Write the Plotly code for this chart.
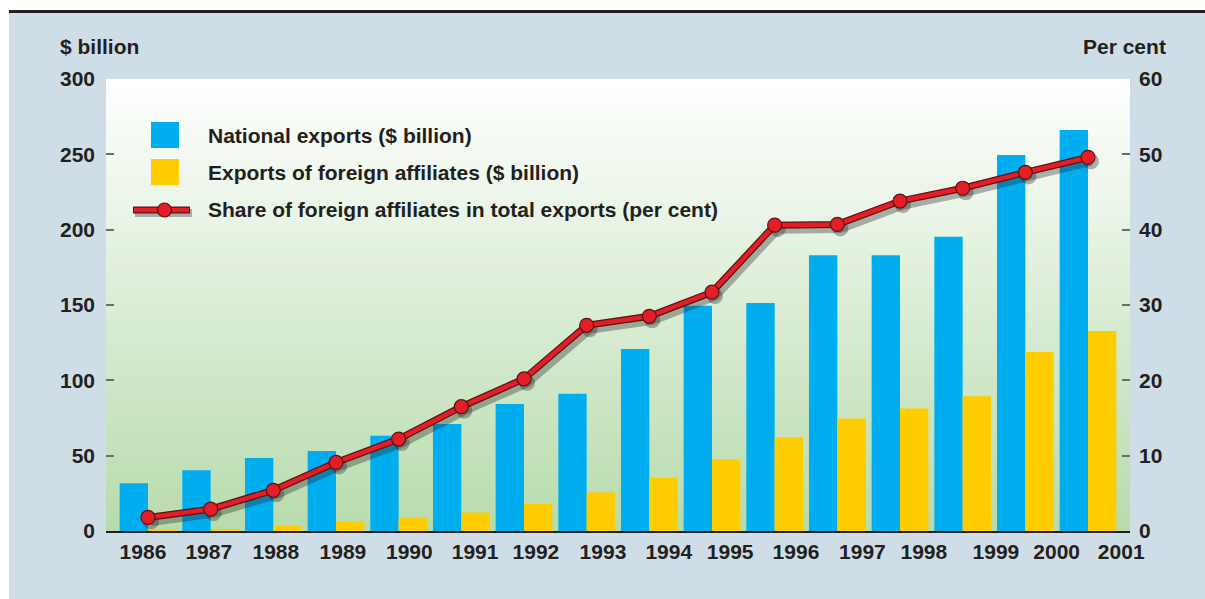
import plotly.graph_objects as go

# ---- data -------------------------------------------------------------
years = ["1986", "1987", "1988", "1989", "1990", "1991", "1992", "1993",
         "1994", "1995", "1996", "1997", "1998", "1999", "2000", "2001"]
national_exports = [31.7, 40.3, 48.4, 53.1, 63.2, 71.0, 84.3, 91.1,
                    120.8, 149.5, 151.3, 183.1, 183.1, 195.3, 249.5, 266.1]
affiliate_exports = [0.3, 1.3, 3.5, 6.4, 8.6, 12.2, 17.9, 25.6,
                     35.1, 47.7, 62.3, 74.6, 81.3, 89.4, 118.8, 132.7]
affiliate_share = [1.8, 2.9, 5.4, 9.1, 12.2, 16.5, 20.2, 27.3,
                   28.5, 31.7, 40.6, 40.7, 43.8, 45.5, 47.6, 49.6]
# positions of the year labels along the category axis (group units)
label_pos = [-0.08, 0.97, 2.04, 3.11, 4.17, 5.22, 6.19, 7.26,
             8.31, 9.29, 10.34, 11.40, 12.38, 13.53, 14.50, 15.53]
left_ticks = [0, 50, 100, 150, 200, 250, 300]
right_ticks = [0, 10, 20, 30, 40, 50, 60]

# ---- styling ----------------------------------------------------------
W, H = 1205, 599
L, R, T, B = 106, 75, 79, 68
PW, PH = W - L - R, H - T - B
PANEL = "#cfdee6"
BLUE = "#00aeef"
YELLOW = "#ffcc00"
RED = "#e41e26"
EDGE = "#5a1214"
DARK = "#231f20"
FONT = "Liberation Sans, Arial, sans-serif"
XR = [-0.67, 15.67]
YR2 = [0, 60]

def px_x(p):
    return (p - L) / PW

def px_y(p):
    return (H - B - p) / PH

idx = list(range(len(years)))

fig = go.Figure()
fig.add_trace(go.Bar(x=idx, y=national_exports, name="National exports ($ billion)",
                     marker=dict(color=BLUE, line=dict(width=0)), showlegend=False))
fig.add_trace(go.Bar(x=idx, y=affiliate_exports, name="Exports of foreign affiliates ($ billion)",
                     marker=dict(color=YELLOW, line=dict(width=0)), showlegend=False))

# soft drop shadow of the share line, drawn on slightly shifted hidden axes
sx = 3 / (PW / (XR[1] - XR[0]))
sy = 4 / (PH / (YR2[1] - YR2[0]))
fig.add_trace(go.Scatter(x=idx, y=affiliate_share, mode="lines+markers",
                         xaxis="x2", yaxis="y3", hoverinfo="skip", showlegend=False,
                         line=dict(color="rgba(40,40,40,0.35)", width=9),
                         marker=dict(size=16, color="rgba(40,40,40,0.35)")))
# share line on its own overlay so it sits above the shadow:
# dark outline underneath, red line and markers on top
fig.add_trace(go.Scatter(x=idx, y=affiliate_share, mode="lines", xaxis="x3", yaxis="y2",
                         hoverinfo="skip", showlegend=False,
                         line=dict(color=EDGE, width=7)))
fig.add_trace(go.Scatter(x=idx, y=affiliate_share, mode="lines+markers", xaxis="x3", yaxis="y2",
                         name="Share of foreign affiliates in total exports (per cent)",
                         showlegend=False,
                         line=dict(color=RED, width=4.5),
                         marker=dict(size=14, color=RED, line=dict(color=EDGE, width=1.2))))

shapes = []
# outer panel and top rule
shapes.append(dict(type="rect", xref="paper", yref="paper", layer="below",
                   x0=px_x(0), x1=px_x(9), y0=px_y(H), y1=px_y(0),
                   fillcolor="white", line=dict(width=0)))
shapes.append(dict(type="rect", xref="paper", yref="paper", layer="below",
                   x0=px_x(0), x1=px_x(W), y0=px_y(10), y1=px_y(0),
                   fillcolor="white", line=dict(width=0)))
shapes.append(dict(type="rect", xref="paper", yref="paper", layer="below",
                   x0=px_x(9), x1=px_x(W), y0=px_y(13), y1=px_y(10),
                   fillcolor=DARK, line=dict(width=0)))
# vertical gradient of the plotting area: white at top, pale green at bottom
n_bands = 90
top_rgb = (255, 255, 255)
bot_rgb = (183, 219, 172)
for i in range(n_bands):
    f = (i + 0.5) / n_bands
    c = tuple(round(top_rgb[k] + (bot_rgb[k] - top_rgb[k]) * f) for k in range(3))
    shapes.append(dict(type="rect", xref="x domain", yref="y domain", layer="below",
                       x0=0, x1=1, y0=1 - (i + 1) / n_bands - 0.002, y1=1 - i / n_bands,
                       fillcolor="rgb(%d,%d,%d)" % c, line=dict(width=0)))

# legend drawn by hand
shapes.append(dict(type="rect", xref="paper", yref="paper",
                   x0=px_x(151), x1=px_x(179), y0=px_y(148), y1=px_y(122),
                   fillcolor=BLUE, line=dict(width=0)))
shapes.append(dict(type="rect", xref="paper", yref="paper",
                   x0=px_x(151), x1=px_x(179), y0=px_y(185), y1=px_y(159),
                   fillcolor=YELLOW, line=dict(width=0)))
shapes.append(dict(type="line", xref="paper", yref="paper",
                   x0=px_x(135), x1=px_x(192), y0=px_y(213), y1=px_y(213),
                   line=dict(color="rgba(40,40,40,0.35)", width=8)))
shapes.append(dict(type="line", xref="paper", yref="paper",
                   x0=px_x(133), x1=px_x(190), y0=px_y(210), y1=px_y(210),
                   line=dict(color=EDGE, width=7)))
shapes.append(dict(type="line", xref="paper", yref="paper",
                   x0=px_x(134), x1=px_x(189), y0=px_y(210), y1=px_y(210),
                   line=dict(color=RED, width=4.5)))
shapes.append(dict(type="circle", xref="paper", yref="paper",
                   x0=px_x(157.5), x1=px_x(171.5), y0=px_y(217), y1=px_y(203),
                   fillcolor=RED, line=dict(color=EDGE, width=1.2)))

font = dict(family=FONT, size=21, color=DARK, weight="bold")
annotations = []
legend_rows = [("National exports ($ billion)", 135),
               ("Exports of foreign affiliates ($ billion)", 172),
               ("Share of foreign affiliates in total exports (per cent)", 210)]
for txt, yy in legend_rows:
    annotations.append(dict(text=txt, xref="paper", yref="paper", x=px_x(206), y=px_y(yy),
                            xanchor="left", yanchor="middle", showarrow=False, font=font))
annotations.append(dict(text="$ billion", xref="paper", yref="paper", x=px_x(58), y=px_y(47),
                        xanchor="left", yanchor="middle", showarrow=False, font=font))
annotations.append(dict(text="Per cent", xref="paper", yref="paper", x=px_x(1168), y=px_y(47),
                        xanchor="right", yanchor="middle", showarrow=False, font=font))

fig.update_layout(
    width=W, height=H,
    margin=dict(l=L, r=R, t=T, b=B, pad=0),
    paper_bgcolor=PANEL, plot_bgcolor=PANEL,
    barmode="group", bargap=0.095, bargroupgap=0,
    font=font,
    showlegend=False,
    shapes=shapes, annotations=annotations,
    xaxis=dict(range=XR, tickmode="array", tickvals=label_pos, ticktext=years,
               showgrid=False, zeroline=False, showline=True, linecolor=DARK, linewidth=2,
               ticks="", ticklabelstandoff=1, tickfont=font, fixedrange=True),
    yaxis=dict(range=[0, 300], tickmode="array", tickvals=left_ticks,
               showgrid=False, zeroline=False, showline=False,
               ticks="inside", ticklen=8, tickwidth=2, tickcolor="#6d6d6d",
               ticklabelstandoff=10, tickfont=font),
    yaxis2=dict(range=YR2, overlaying="y", side="right", anchor="x", tickmode="array",
                tickvals=right_ticks,
                showgrid=False, zeroline=False, showline=False,
                ticks="inside", ticklen=8, tickwidth=2, tickcolor="#6d6d6d",
                ticklabelstandoff=8, tickfont=font),
    xaxis2=dict(range=[XR[0] - sx, XR[1] - sx], overlaying="x", visible=False),
    xaxis3=dict(range=XR, overlaying="x", visible=False),
    yaxis3=dict(range=[YR2[0] + sy, YR2[1] + sy], overlaying="y", visible=False),
)

fig.write_html("out.html")
